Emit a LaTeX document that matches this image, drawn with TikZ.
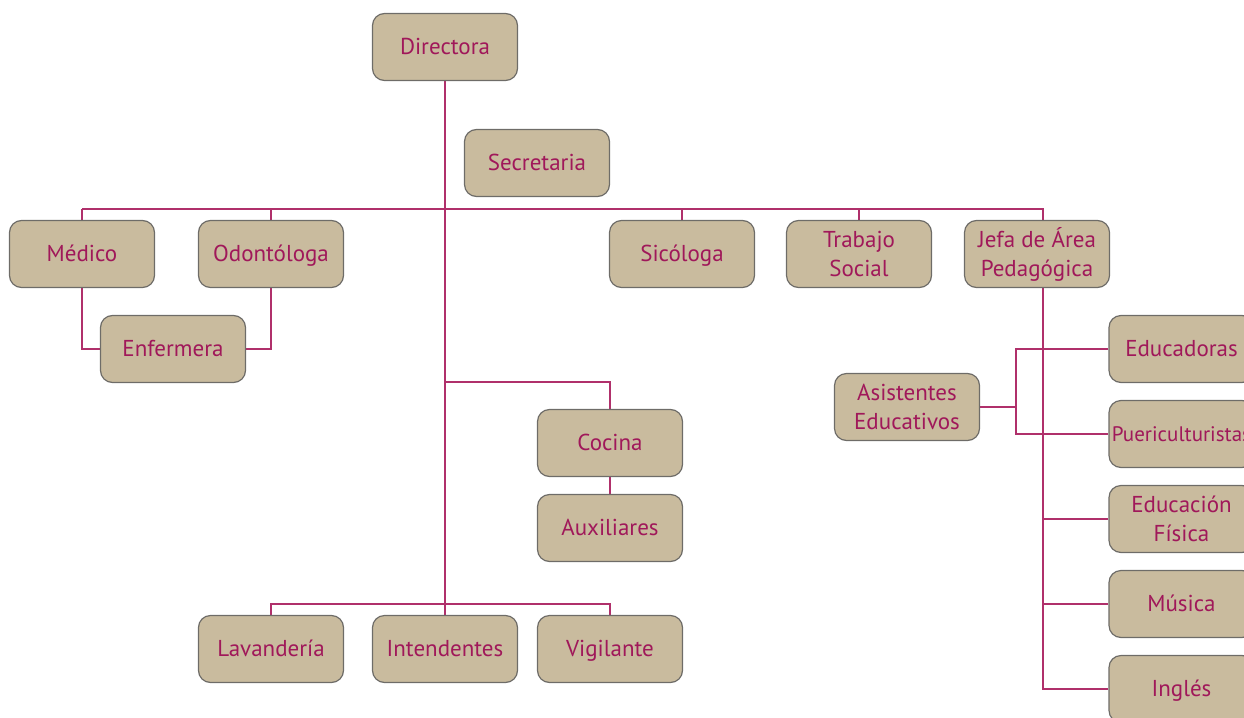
\documentclass[tikz,border=0pt]{standalone}
\usepackage{fontspec}
\setmainfont{PT Sans}
\usepackage{tikz}
\usetikzlibrary{positioning, calc, backgrounds}
\definecolor{boxfill}{RGB}{201,187,158}
\definecolor{boxline}{RGB}{110,108,104}
\definecolor{wine}{RGB}{160,24,90}
\definecolor{linecol}{RGB}{176,48,107}

\begin{document}
\begin{tikzpicture}[x=1pt, y=-1pt, node distance=207pt,
    box/.style={rectangle, rounded corners=12pt, draw=boxline, line width=1.2pt, fill=boxfill,
        minimum width=145pt, minimum height=67pt, align=center, text=wine,
        font=\fontsize{23}{29}\selectfont},
    oneline/.style={box, text height=18pt, text depth=3pt},
    conn/.style={draw=linecol, line width=1.8pt}]
    \useasboundingbox (0,0) rectangle (1244,717);

    % Nodes
    \node (dir) [oneline] at (445,47) {Directora};
    \node (sec) [oneline] at (537,163) {Secretaria};
    \node (med) [oneline, below of=dir, xshift=-363pt] {Médico};
    \node (odo) [oneline, below of=dir, xshift=-174pt] {Odontóloga};
    \node (sic) [oneline, below of=dir, xshift=237pt] {Sicóloga};
    \node (tra) [box, below of=dir, xshift=414pt] {Trabajo\\Social};
    \node (jefa) [box, below of=dir, xshift=592pt] {Jefa de Área\\Pedagógica};
    \node (enf) [oneline] at (173,349) {Enfermera};
    \node (coc) [oneline] at (610,443) {Cocina};
    \node (aux) [oneline, below of=coc, node distance=85pt] {Auxiliares};
    \node (lav) [oneline] at (271,649) {Lavandería};
    \node (int) [oneline] at (445,649) {Intendentes};
    \node (vig) [oneline] at (610,649) {Vigilante};
    \node (asi) [box] at (907,407) {Asistentes\\Educativos};
    \node (edu) [oneline] at (1181.5,349) {Educadoras};
    \node (pue) [oneline, inner xsep=0pt, font=\fontsize{21}{29}\selectfont] at (1181.5,434) {Puericulturistas};
    \node (fis) [box] at (1181.5,519) {Educación\\Física};
    \node (mus) [oneline] at (1181.5,604) {Música};
    \node (ing) [oneline] at (1181.5,689) {Inglés};

    \coordinate (bus) at (445,209);
    \coordinate (kit) at (445,382);
    \coordinate (low) at (445,604);
    \coordinate (ped) at ([xshift=6pt]jefa.south);
    \coordinate (top) at ([xshift=6pt]jefa.north);
    \coordinate (brk) at (1016,404);

    % Lines
    \begin{scope}[on background layer]
    \draw[conn] (dir) -- (int);
    \draw[conn] (med.north |- bus) -- (top |- bus) -- (top);
    \foreach \n in {med, odo, sic, tra}
        \draw[conn] (\n.north) -- (\n.north |- bus);
    \draw[conn] (med.south) |- (enf.west);
    \draw[conn] (odo.south) |- (enf.east);
    \draw[conn] (kit) -| (coc.north);
    \draw[conn] (coc) -- (aux);
    \draw[conn] (lav.north) -- (lav.north |- low) -| (vig.north);
    \draw[conn] (ped) |- (ing.west);
    \draw[conn] (ped |- fis.west) -- (fis.west);
    \draw[conn] (ped |- mus.west) -- (mus.west);
    \draw[conn] (asi.east) -- (asi.east -| brk);
    \draw[conn] (edu.west) -| (brk |- pue.west) -- (pue.west);
    \end{scope}
\end{tikzpicture}
\end{document}
